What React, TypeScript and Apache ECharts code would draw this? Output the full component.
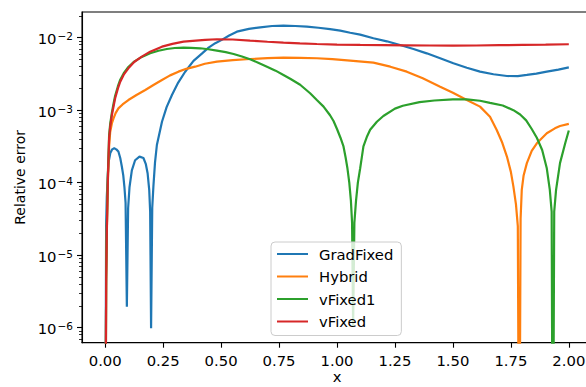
import React, { useEffect, useRef } from 'react';
import * as echarts from 'echarts';

const FONT = '"DejaVu Sans", sans-serif';
const FS = 14.8;

// Tick positions / labels
const xTicks = [0, 0.25, 0.5, 0.75, 1, 1.25, 1.5, 1.75, 2];
const yTicks = [1e-6, 1e-5, 1e-4, 1e-3, 1e-2];
const yMinorTicks = [
  7e-7, 8e-7, 9e-7,
  2e-6, 3e-6, 4e-6, 5e-6, 6e-6, 7e-6, 8e-6, 9e-6,
  2e-5, 3e-5, 4e-5, 5e-5, 6e-5, 7e-5, 8e-5, 9e-5,
  2e-4, 3e-4, 4e-4, 5e-4, 6e-4, 7e-4, 8e-4, 9e-4,
  2e-3, 3e-3, 4e-3, 5e-3, 6e-3, 7e-3, 8e-3, 9e-3,
  2e-2,
];
const xMin = -0.1;
const xMax = 2.1;
const yMin = 6.21e-7;
const yMax = 0.0226;

const seriesNames = ['GradFixed', 'Hybrid', 'vFixed1', 'vFixed'];
const seriesColors = ['#1f77b4', '#ff7f0e', '#2ca02c', '#d62728'];

// GradFixed
const gradX = [0, 0.004, 0.007, 0.014, 0.022, 0.03, 0.039, 0.048, 0.057, 0.065, 0.072, 0.078, 0.083, 0.088, 0.0935, 0.099, 0.105, 0.115, 0.129, 0.148, 0.165, 0.175, 0.183, 0.19, 0.194, 0.198, 0.203, 0.208, 0.215, 0.223, 0.245, 0.265, 0.288, 0.315, 0.345, 0.381, 0.417, 0.446, 0.475, 0.503, 0.535, 0.568, 0.62, 0.669, 0.72, 0.769, 0.82, 0.87, 0.92, 0.97, 1.014, 1.057, 1.1, 1.157, 1.215, 1.272, 1.33, 1.387, 1.445, 1.502, 1.56, 1.617, 1.675, 1.733, 1.78, 1.819, 1.86, 1.905, 1.955, 2.0];
const gradY = [1e-9, 2.51e-5, 6.46e-5, 1.86e-4, 2.57e-4, 2.88e-4, 2.98e-4, 2.88e-4, 2.69e-4, 2.19e-4, 1.66e-4, 1.26e-4, 8.71e-5, 5.25e-5, 1.95e-6, 4.47e-5, 8.71e-5, 1.48e-4, 2.04e-4, 2.29e-4, 2.19e-4, 1.82e-4, 1.35e-4, 7.94e-5, 3.98e-5, 9.8e-7, 4.47e-5, 8.91e-5, 1.91e-4, 3.31e-4, 6.92e-4, 1.10e-3, 1.62e-3, 2.40e-3, 3.39e-3, 4.79e-3, 6.03e-3, 7.28e-3, 8.39e-3, 9.33e-3, 1.07e-2, 1.21e-2, 1.32e-2, 1.39e-2, 1.45e-2, 1.47e-2, 1.45e-2, 1.42e-2, 1.37e-2, 1.31e-2, 1.25e-2, 1.17e-2, 1.10e-2, 9.82e-3, 8.91e-3, 7.94e-3, 6.97e-3, 6.08e-3, 5.19e-3, 4.43e-3, 3.85e-3, 3.40e-3, 3.13e-3, 2.96e-3, 2.95e-3, 3.06e-3, 3.20e-3, 3.40e-3, 3.63e-3, 3.89e-3];

// Hybrid
const hybridX = [0, 0.0043, 0.0072, 0.0115, 0.017, 0.0216, 0.029, 0.036, 0.045, 0.057, 0.075, 0.1, 0.135, 0.173, 0.21, 0.245, 0.28, 0.316, 0.35, 0.388, 0.43, 0.482, 0.55, 0.625, 0.7, 0.769, 0.84, 0.913, 0.98, 1.057, 1.157, 1.23, 1.301, 1.37, 1.445, 1.5, 1.56, 1.617, 1.66, 1.689, 1.713, 1.733, 1.75, 1.761, 1.772, 1.78, 1.786, 1.792, 1.797, 1.805, 1.819, 1.84, 1.862, 1.905, 1.94, 1.962, 2.0];
const hybridY = [1e-9, 4.37e-6, 2.09e-5, 1.0e-4, 3.16e-4, 5.01e-4, 6.61e-4, 7.73e-4, 9.12e-4, 1.06e-3, 1.20e-3, 1.38e-3, 1.62e-3, 1.90e-3, 2.24e-3, 2.61e-3, 3.02e-3, 3.40e-3, 3.72e-3, 3.98e-3, 4.37e-3, 4.67e-3, 4.90e-3, 5.08e-3, 5.21e-3, 5.30e-3, 5.27e-3, 5.20e-3, 5.07e-3, 4.82e-3, 4.52e-3, 3.98e-3, 3.40e-3, 2.75e-3, 2.11e-3, 1.74e-3, 1.38e-3, 1.12e-3, 8.13e-4, 5.33e-4, 3.55e-4, 2.29e-4, 1.41e-4, 8.81e-5, 5.01e-5, 2.51e-5, 1e-9, 3.16e-5, 7.94e-5, 1.26e-4, 1.86e-4, 2.75e-4, 3.49e-4, 4.80e-4, 5.62e-4, 6.05e-4, 6.46e-4];

// vFixed1
const vFixed1X = [0, 0.0043, 0.0072, 0.0115, 0.017, 0.022, 0.029, 0.036, 0.043, 0.055, 0.065, 0.08, 0.1, 0.125, 0.158, 0.194, 0.23, 0.266, 0.3, 0.338, 0.37, 0.41, 0.445, 0.482, 0.52, 0.554, 0.59, 0.625, 0.66, 0.698, 0.735, 0.769, 0.8, 0.841, 0.884, 0.913, 0.942, 0.97, 0.985, 1.0, 1.015, 1.028, 1.037, 1.045, 1.053, 1.06, 1.065, 1.0695, 1.075, 1.082, 1.09, 1.1, 1.107, 1.114, 1.13, 1.143, 1.172, 1.2, 1.25, 1.284, 1.356, 1.42, 1.5, 1.56, 1.617, 1.66, 1.715, 1.761, 1.79, 1.816, 1.84, 1.862, 1.885, 1.905, 1.918, 1.926, 1.931, 1.937, 1.945, 1.962, 1.985, 2.0];
const vFixed1Y = [1e-9, 5.01e-6, 2.51e-5, 1.26e-4, 4.57e-4, 6.61e-4, 9.33e-4, 1.23e-3, 1.58e-3, 2.14e-3, 2.63e-3, 3.24e-3, 3.94e-3, 4.68e-3, 5.43e-3, 6.10e-3, 6.61e-3, 6.98e-3, 7.21e-3, 7.28e-3, 7.24e-3, 7.14e-3, 6.92e-3, 6.62e-3, 6.31e-3, 5.96e-3, 5.50e-3, 5.04e-3, 4.52e-3, 3.98e-3, 3.51e-3, 3.06e-3, 2.69e-3, 2.24e-3, 1.71e-3, 1.38e-3, 1.12e-3, 8.51e-4, 7.08e-4, 5.50e-4, 4.17e-4, 3.16e-4, 2.24e-4, 1.58e-4, 1.0e-4, 5.62e-5, 2.82e-5, 1.02e-6, 2.82e-5, 5.62e-5, 1.0e-4, 1.58e-4, 2.24e-4, 3.16e-4, 4.37e-4, 5.37e-4, 6.92e-4, 8.32e-4, 1.05e-3, 1.15e-3, 1.29e-3, 1.36e-3, 1.41e-3, 1.41e-3, 1.35e-3, 1.26e-3, 1.16e-3, 1.0e-3, 8.71e-4, 7.24e-4, 5.50e-4, 4.17e-4, 2.82e-4, 1.58e-4, 7.94e-5, 3.98e-5, 1e-9, 3.98e-5, 7.94e-5, 1.86e-4, 3.55e-4, 5.25e-4];

// vFixed
const vFixedX = [0, 0.0043, 0.0072, 0.0115, 0.017, 0.022, 0.029, 0.036, 0.043, 0.055, 0.065, 0.08, 0.1, 0.125, 0.158, 0.194, 0.245, 0.29, 0.338, 0.431, 0.482, 0.55, 0.625, 0.7, 0.769, 0.84, 0.913, 1.0, 1.1, 1.2, 1.3, 1.4, 1.5, 1.6, 1.7, 1.8, 1.9, 2.0];
const vFixedY = [1e-9, 4.57e-6, 2.24e-5, 1.10e-4, 4.17e-4, 6.03e-4, 8.59e-4, 1.12e-3, 1.46e-3, 2.00e-3, 2.47e-3, 3.09e-3, 3.78e-3, 4.62e-3, 5.47e-3, 6.41e-3, 7.52e-3, 8.22e-3, 8.81e-3, 9.33e-3, 9.51e-3, 9.44e-3, 9.10e-3, 8.79e-3, 8.53e-3, 8.34e-3, 8.18e-3, 8.04e-3, 7.94e-3, 7.91e-3, 7.85e-3, 7.80e-3, 7.76e-3, 7.80e-3, 7.87e-3, 7.94e-3, 8.02e-3, 8.11e-3];

const seriesX = [gradX, hybridX, vFixed1X, vFixedX];
const seriesY = [gradY, hybridY, vFixed1Y, vFixedY];

export default function App() {
  const ref = useRef<HTMLDivElement>(null);
  useEffect(() => {
    document.body.style.margin = '0';
    if (!ref.current) return;
    const chart = echarts.init(ref.current, undefined, { renderer: 'svg' });
    const option: any = {
      animation: false,
      backgroundColor: '#ffffff',
      textStyle: { fontFamily: FONT },
      grid: {
        left: 82,
        top: 12,
        width: 510,
        height: 330.7,
        show: true,
        borderColor: '#000',
        borderWidth: 1.1,
        outerBoundsMode: 'none',
        containLabel: false,
      },
      legend: {
        orient: 'vertical',
        left: 271,
        top: 242,
        data: seriesNames,
        icon: 'rect',
        itemWidth: 31,
        itemHeight: 2,
        itemGap: 6.5,
        padding: [4, 8, 6, 6],
        backgroundColor: 'rgba(255,255,255,0.8)',
        borderColor: '#cccccc',
        borderWidth: 1,
        borderRadius: 4,
        textStyle: { fontFamily: FONT, fontSize: FS, color: '#000', lineHeight: 16, padding: [0, 0, 0, 6] },
      },
      xAxis: {
        type: 'value',
        min: xMin,
        max: xMax,
        name: 'x',
        nameLocation: 'middle',
        nameGap: 27,
        nameMoveOverlap: false,
        nameTextStyle: { fontFamily: FONT, fontSize: FS, color: '#000', lineHeight: 14 },
        axisLine: { show: true, onZero: false, lineStyle: { color: '#000', width: 1.1 } },
        axisTick: { show: true, length: 5, lineStyle: { color: '#000', width: 1.1 }, customValues: xTicks },
        axisLabel: {
          customValues: xTicks,
          fontFamily: FONT,
          fontSize: FS,
          color: '#000',
          margin: 10,
          formatter: (v: number) => v.toFixed(2),
        },
        splitLine: { show: false },
      },
      yAxis: [
        {
          type: 'log',
          min: yMin,
          max: yMax,
          position: 'left',
          name: 'Relative error',
          nameLocation: 'middle',
          nameGap: 55,
          nameMoveOverlap: false,
          nameTextStyle: { fontFamily: FONT, fontSize: 14, color: '#000' },
          axisLine: { show: true, onZero: false, lineStyle: { color: '#000', width: 1.1 } },
          axisTick: { show: true, length: 5, lineStyle: { color: '#000', width: 1.1 }, customValues: yTicks },
          axisLabel: {
            customValues: yTicks,
            margin: 9,
            color: '#000',
            fontFamily: FONT,
            formatter: (v: number) => {
              const e = Math.round(Math.log10(v));
              return '{b|10}{s|\u2212' + Math.abs(e) + '}';
            },
            rich: {
              b: { fontFamily: FONT, fontSize: FS, color: '#000', padding: [2, 0, 0, 0] },
              s: { fontFamily: FONT, fontSize: 10.5, color: '#000', padding: [0, 0, 3, 1] },
            },
          },
          splitLine: { show: false },
        },
        {
          type: 'log',
          min: yMin,
          max: yMax,
          position: 'left',
          axisLine: { show: false, onZero: false },
          axisTick: { show: true, length: 3, lineStyle: { color: '#000', width: 0.8 }, customValues: yMinorTicks },
          axisLabel: { show: false },
          splitLine: { show: false },
        },
      ],
      series: seriesNames.map((name, i) => ({
        name,
        type: 'line',
        yAxisIndex: 0,
        showSymbol: false,
        symbol: 'none',
        clip: true,
        color: seriesColors[i],
        lineStyle: { color: seriesColors[i], width: 2.2 },
        data: seriesX[i].map((x, j) => [x, seriesY[i][j]]),
      })),
    };
    chart.setOption(option);
    return () => chart.dispose();
  }, []);
  return <div ref={ref} style={{ width: 586, height: 387 }} />;
}
